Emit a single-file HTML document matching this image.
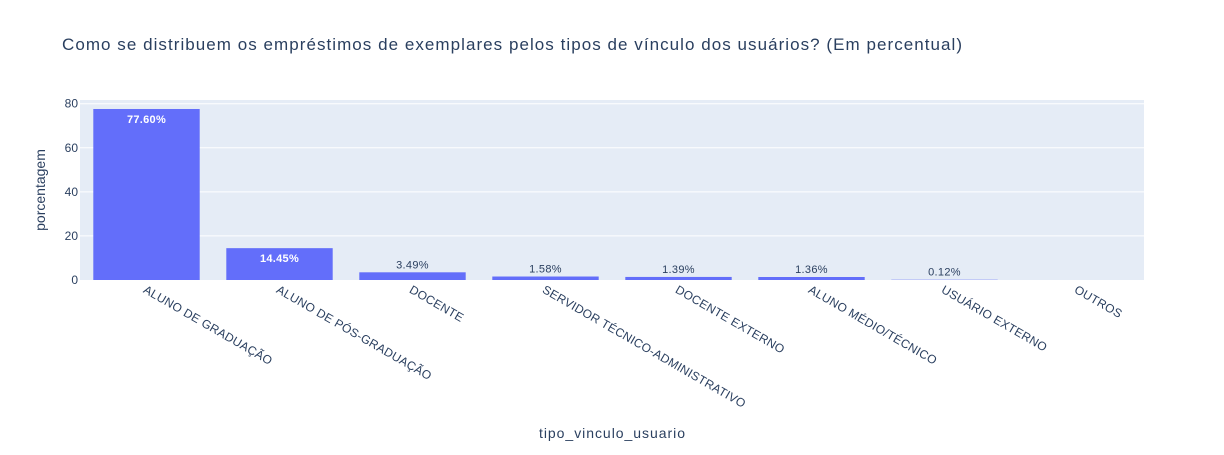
<!DOCTYPE html>
<html><head><meta charset="utf-8"><style>
body{margin:0;background:#fff;font-family:"Liberation Sans","DejaVu Sans",sans-serif}
svg text{font-family:"Liberation Sans","DejaVu Sans",sans-serif}
</style></head><body>
<svg id="chart" width="1224" height="450">
<rect width="1224" height="450" fill="#fff"/>
<text x="62" y="50" font-size="17" fill="#2a3f5f" textLength="900" lengthAdjust="spacing">Como se distribuem os empréstimos de exemplares pelos tipos de vínculo dos usuários? (Em percentual)</text>
<rect x="80" y="100" width="1064" height="180" fill="#e5ecf6"/>
<g id="grid"></g><g id="bars"></g><g id="xt"></g><g id="yt"></g>
<text x="539" y="438" font-size="14" fill="#2a3f5f" textLength="146" lengthAdjust="spacing">tipo_vinculo_usuario</text>
<text transform="translate(45,190) rotate(-90)" font-size="14" fill="#2a3f5f" text-anchor="middle">porcentagem</text>
</svg>
<script>
const categories=["ALUNO DE GRADUAÇÃO","ALUNO DE PÓS-GRADUAÇÃO","DOCENTE","SERVIDOR TÉCNICO-ADMINISTRATIVO","DOCENTE EXTERNO","ALUNO MÉDIO/TÉCNICO","USUÁRIO EXTERNO","OUTROS"];
const values=[77.60,14.45,3.49,1.58,1.39,1.36,0.12,0.00];
const yTicks=[0,20,40,60,80];
const NS="http://www.w3.org/2000/svg";
const L=80,T=100,W=1064,H=180,ymax=Math.max(...values)*1.0526;
const y=v=>T+H-v/ymax*H;
const bw=W/categories.length;
const xc=i=>L+bw*(i+0.5);
function mk(tag,attrs,parent,txt){const e=document.createElementNS(NS,tag);for(const k in attrs)e.setAttribute(k,attrs[k]);if(txt!=null)e.textContent=txt;document.getElementById(parent).appendChild(e);return e;}
yTicks.forEach(t=>{
  if(t>0){const g=mk('line',{x1:L,x2:L+W,y1:y(t),y2:y(t),stroke:'#fff','stroke-width':1},'grid');
  
  }
  const e=mk('text',{x:L-2,y:y(t)+4,'font-size':12,fill:'#2a3f5f','text-anchor':'end'},'yt',t);
  
  
});
values.forEach((v,i)=>{
  const w=bw*0.8,x=xc(i)-w/2,top=y(v);
  const r=mk('rect',{x:x,y:top,width:w,height:Math.max(0,T+H-top),fill:'#636efa'},'bars');
  
  
  if(v>0){
    const lab=v.toFixed(2)+'%';
    const h=T+H-top;
    let t;
    if(h>20) t=mk('text',{x:xc(i),y:top+14,'font-size':11,'font-weight':'bold',fill:'#fff','text-anchor':'middle','letter-spacing':0.3},'bars',lab);
    else t=mk('text',{x:xc(i),y:top-4,'font-size':11,fill:'#2a3f5f','text-anchor':'middle','letter-spacing':0.3},'bars',lab);
    
    
  }
  const tl=mk('text',{transform:`translate(${xc(i)-4},${292}) rotate(30)`,'font-size':12,fill:'#2a3f5f','letter-spacing':0.25},'xt',categories[i]);
  
  
});
</script>
</body></html>
